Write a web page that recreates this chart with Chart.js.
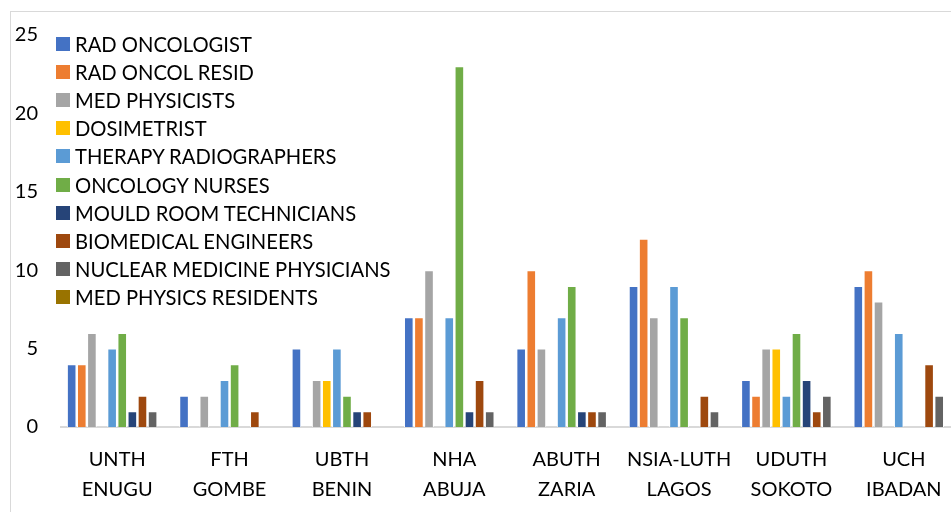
<!DOCTYPE html>
<html>
<head>
    <title>Oncology Workforce by Centre</title>
    <script src="https://cdn.jsdelivr.net/npm/chart.js"></script>
    <style>
        body {
            margin: 0;
            width: 951px;
            height: 512px;
            overflow: hidden;
            background: #fff;
            font-family: Lato, 'Open Sans', sans-serif;
        }
        .frame {
            position: absolute;
            left: 10px;
            top: 11px;
            width: 1000px;
            height: 600px;
            border: 1px solid #d9d9d9;
        }
        .chart-box {
            position: absolute;
            left: 0;
            top: 0;
            width: 960px;
            height: 512px;
        }
        .legend {
            position: absolute;
            left: 56px;
            top: 30px;
        }
        .legend-item {
            height: 28.1px;
            display: flex;
            align-items: center;
            font-size: 20.2px;
            color: #000;
            white-space: nowrap;
        }
        .legend-item span {
            display: inline-block;
            width: 14px;
            height: 14px;
            margin-right: 5px;
        }
    </style>
</head>
<body>
    <div class="frame"></div>
    <div class="chart-box">
        <canvas id="chart"></canvas>
    </div>
    <div class="legend" id="legend"></div>

    <script>
        // Centres (x axis), two-line labels
        const centres = [
            ['UNTH', 'ENUGU'],
            ['FTH', 'GOMBE'],
            ['UBTH', 'BENIN'],
            ['NHA', 'ABUJA'],
            ['ABUTH', 'ZARIA'],
            ['NSIA-LUTH', 'LAGOS'],
            ['UDUTH', 'SOKOTO'],
            ['UCH', 'IBADAN']
        ];

        // Staff counts per centre, one array per staff group
        const radOncologist      = [4, 2, 5, 7, 5, 9, 3, 9];
        const radOncolResid      = [4, 0, 0, 7, 10, 12, 2, 10];
        const medPhysicists      = [6, 2, 3, 10, 5, 7, 5, 8];
        const dosimetrist        = [0, 0, 3, 0, 0, 0, 5, 0];
        const therapyRadiographers = [5, 3, 5, 7, 7, 9, 2, 6];
        const oncologyNurses     = [6, 4, 2, 23, 9, 7, 6, 0];
        const mouldRoomTechs     = [1, 0, 1, 1, 1, 0, 3, 0];
        const biomedicalEngineers = [2, 1, 1, 3, 1, 2, 1, 4];
        const nuclearMedPhysicians = [1, 0, 0, 1, 1, 1, 2, 2];
        const medPhysicsResidents = [0, 0, 0, 0, 0, 0, 0, 0];

        const yTicks = [0, 5, 10, 15, 20, 25];

        const series = [
            { name: 'RAD ONCOLOGIST', data: radOncologist, color: '#4472C4' },
            { name: 'RAD ONCOL RESID', data: radOncolResid, color: '#ED7D31' },
            { name: 'MED PHYSICISTS', data: medPhysicists, color: '#A5A5A5' },
            { name: 'DOSIMETRIST', data: dosimetrist, color: '#FFC000' },
            { name: 'THERAPY RADIOGRAPHERS', data: therapyRadiographers, color: '#5B9BD5' },
            { name: 'ONCOLOGY NURSES', data: oncologyNurses, color: '#70AD47' },
            { name: 'MOULD ROOM TECHNICIANS', data: mouldRoomTechs, color: '#264478' },
            { name: 'BIOMEDICAL ENGINEERS', data: biomedicalEngineers, color: '#9E480E' },
            { name: 'NUCLEAR MEDICINE PHYSICIANS', data: nuclearMedPhysicians, color: '#636363' },
            { name: 'MED PHYSICS RESIDENTS', data: medPhysicsResidents, color: '#997300' }
        ];

        // Legend sits inside the plot, top-left
        const legend = document.getElementById('legend');
        series.forEach(s => {
            const item = document.createElement('div');
            item.className = 'legend-item';
            const box = document.createElement('span');
            box.style.background = s.color;
            item.appendChild(box);
            item.appendChild(document.createTextNode(s.name));
            legend.appendChild(item);
        });

        const ctx = document.getElementById('chart').getContext('2d');
        new Chart(ctx, {
            type: 'bar',
            data: {
                labels: centres,
                datasets: series.map(s => ({
                    label: s.name,
                    data: s.data,
                    backgroundColor: s.color,
                    borderColor: '#ffffff',
                    borderWidth: 1,
                    categoryPercentage: 0.9,
                    barPercentage: 0.95
                }))
            },
            options: {
                responsive: true,
                maintainAspectRatio: false,
                animation: false,
                layout: {
                    padding: { top: 33, right: 0, bottom: 0, left: 0 }
                },
                plugins: {
                    legend: { display: false },
                    tooltip: { enabled: false }
                },
                scales: {
                    x: {
                        grid: { display: false, drawTicks: false },
                        border: { display: true, color: '#d9d9d9', width: 2 },
                        ticks: {
                            color: '#000',
                            padding: 18,
                            font: { family: 'Lato', size: 20, lineHeight: 1.5 },
                            maxRotation: 0,
                            autoSkip: false
                        },
                        afterFit: scale => { scale.height = 85; }
                    },
                    y: {
                        min: 0,
                        max: 25,
                        afterBuildTicks: scale => {
                            scale.ticks = yTicks.map(v => ({ value: v }));
                        },
                        grid: { display: false, drawTicks: false },
                        border: { display: false },
                        ticks: {
                            color: '#000',
                            padding: 23,
                            font: { family: 'Lato', size: 20 }
                        },
                        afterFit: scale => { scale.width = 61; }
                    }
                }
            }
        });
    </script>
</body>
</html>
